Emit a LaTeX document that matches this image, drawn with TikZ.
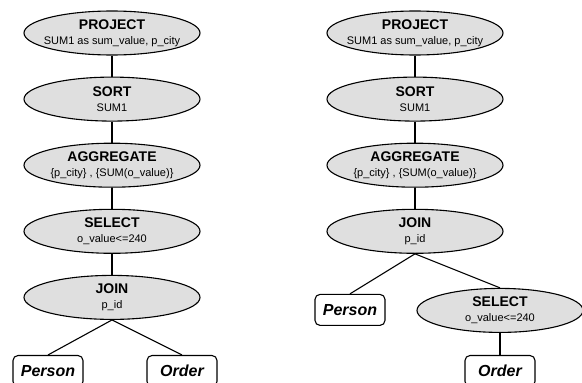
\documentclass[tikz,border=0pt]{standalone}
\usepackage{fontspec}
\setmainfont{Liberation Sans}
\usetikzlibrary{positioning, shapes.geometric}

\newcommand{\optext}[2]{\makebox[0pt]{\parbox{220pt}{\centering\fontsize{14}{16}\selectfont\bfseries #1\\\fontsize{11}{15}\selectfont\mdseries #2\par}}}

\begin{document}
\begin{tikzpicture}[
                opnode/.style={ellipse, draw, line width=1.1pt, fill=gray!25, minimum width=176pt, minimum height=44pt, inner sep=0pt},
                relnode/.style={rectangle, rounded corners=5pt, draw, line width=1.1pt, fill=white, minimum width=70pt, minimum height=31pt, font=\fontsize{16}{18}\selectfont\bfseries\itshape},
                ]
                \useasboundingbox (0,0) rectangle (582pt,-383pt);
                %Nodes, left plan
                \node[opnode]      (lproject)  at (112pt,-33pt)            {\optext{PROJECT}{SUM1 as sum\_value, p\_city}};
                \node[opnode]      (lsort)     [below=21pt of lproject]    {\optext{SORT}{SUM1}};
                \node[opnode]      (laggr)     [below=21pt of lsort]       {\optext{AGGREGATE}{\{p\_city\} , \{SUM(o\_value)\}}};
                \node[opnode]      (lselect)   [below=21pt of laggr]       {\optext{SELECT}{o\_value<=240}};
                \node[opnode]      (ljoin)     [below=21pt of lselect]     {\optext{JOIN}{p\_id}};
                \node[relnode]     (lperson)   [below=35pt of ljoin, xshift=-64pt] {Person};
                \node[relnode]     (lorder)    [below=35pt of ljoin, xshift=70pt]  {Order};

                %Nodes, right plan
                \node[opnode]      (rproject)  at (415pt,-33pt)            {\optext{PROJECT}{SUM1 as sum\_value, p\_city}};
                \node[opnode]      (rsort)     [below=21pt of rproject]    {\optext{SORT}{SUM1}};
                \node[opnode]      (raggr)     [below=21pt of rsort]       {\optext{AGGREGATE}{\{p\_city\} , \{SUM(o\_value)\}}};
                \node[opnode]      (rjoin)     [below=21pt of raggr]       {\optext{JOIN}{p\_id}};
                \node[relnode]     (rperson)   [below=40pt of rjoin, xshift=-65pt] {Person};
                \node[opnode, minimum width=166pt] (rselect) [below=34pt of rjoin, xshift=85pt] {\optext{SELECT}{o\_value<=240}};
                \node[relnode]     (rorder)    [below=22pt of rselect]     {Order};

                %Lines
                \draw[line width=1.1pt] (lproject.south) -- (lsort.north);
                \draw[line width=1.1pt] (lsort.south) -- (laggr.north);
                \draw[line width=1.1pt] (laggr.south) -- (lselect.north);
                \draw[line width=1.1pt] (lselect.south) -- (ljoin.north);
                \draw[line width=1.1pt] (ljoin.south) -- (lperson.north);
                \draw[line width=1.1pt] (ljoin.south) -- (lorder.north);
                \draw[line width=1.1pt] (rproject.south) -- (rsort.north);
                \draw[line width=1.1pt] (rsort.south) -- (raggr.north);
                \draw[line width=1.1pt] (raggr.south) -- (rjoin.north);
                \draw[line width=1.1pt] (rjoin.south) -- (rperson.north);
                \draw[line width=1.1pt] (rjoin.south) -- (rselect.north);
                \draw[line width=1.1pt] (rselect.south) -- (rorder.north);
\end{tikzpicture}
\end{document}
